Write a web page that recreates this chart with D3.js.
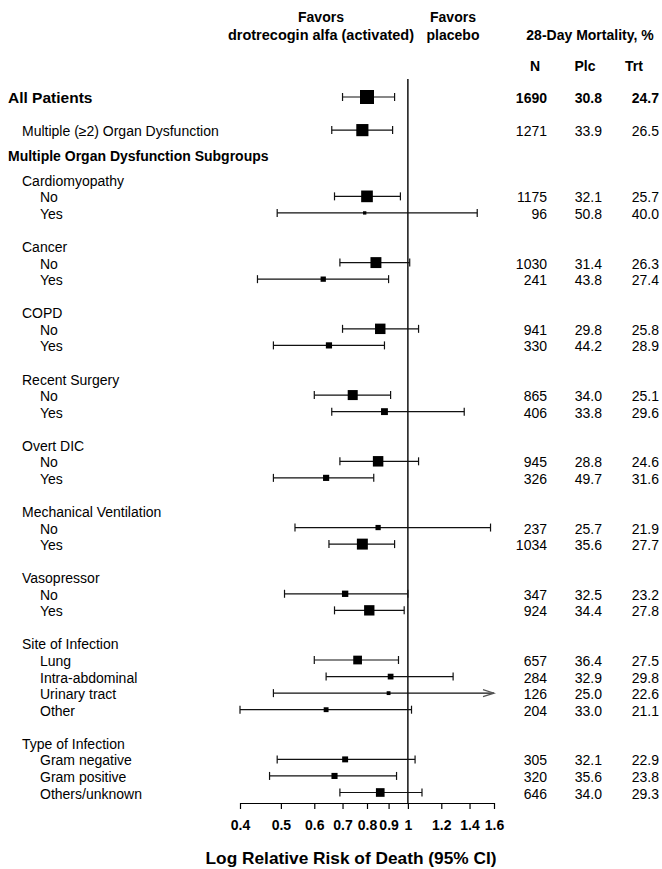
<!DOCTYPE html>
<html>
<head>
<meta charset="utf-8">
<script src="https://cdn.jsdelivr.net/npm/d3@7"></script>
<style>
  html, body { margin: 0; padding: 0; background: #fff; }
  text { font-family: "Liberation Sans", Arial, sans-serif; fill: #000; }
</style>
</head>
<body>
<script>
// ---------------- data ----------------
const labels = [
  "All Patients", "", "Multiple (\u22652) Organ Dysfunction", "", "Multiple Organ Dysfunction Subgroups",
  "Cardiomyopathy", "No", "Yes", "",
  "Cancer", "No", "Yes", "",
  "COPD", "No", "Yes", "",
  "Recent Surgery", "No", "Yes", "",
  "Overt DIC", "No", "Yes", "",
  "Mechanical Ventilation", "No", "Yes", "",
  "Vasopressor", "No", "Yes", "",
  "Site of Infection", "Lung", "Intra-abdominal", "Urinary tract", "Other", "",
  "Type of Infection", "Gram negative", "Gram positive", "Others/unknown"
];
const levels = [
  0, 0, 1, 0, 0,
  1, 2, 2, 0,
  1, 2, 2, 0,
  1, 2, 2, 0,
  1, 2, 2, 0,
  1, 2, 2, 0,
  1, 2, 2, 0,
  1, 2, 2, 0,
  1, 2, 2, 2, 2, 0,
  1, 2, 2, 2
];
const nPatients = [
  1690, null, 1271, null, null,
  null, 1175, 96, null,
  null, 1030, 241, null,
  null, 941, 330, null,
  null, 865, 406, null,
  null, 945, 326, null,
  null, 237, 1034, null,
  null, 347, 924, null,
  null, 657, 284, 126, 204, null,
  null, 305, 320, 646
];
const placebo = [
  "30.8", null, "33.9", null, null,
  null, "32.1", "50.8", null,
  null, "31.4", "43.8", null,
  null, "29.8", "44.2", null,
  null, "34.0", "33.8", null,
  null, "28.8", "49.7", null,
  null, "25.7", "35.6", null,
  null, "32.5", "34.4", null,
  null, "36.4", "32.9", "25.0", "33.0", null,
  null, "32.1", "35.6", "34.0"
];
const treated = [
  "24.7", null, "26.5", null, null,
  null, "25.7", "40.0", null,
  null, "26.3", "27.4", null,
  null, "25.8", "28.9", null,
  null, "25.1", "29.6", null,
  null, "24.6", "31.6", null,
  null, "21.9", "27.7", null,
  null, "23.2", "27.8", null,
  null, "27.5", "29.8", "22.6", "21.1", null,
  null, "22.9", "23.8", "29.3"
];
const relRisk = [
  0.80, null, 0.78, null, null,
  null, 0.80, 0.79, null,
  null, 0.84, 0.63, null,
  null, 0.86, 0.65, null,
  null, 0.74, 0.88, null,
  null, 0.85, 0.64, null,
  null, 0.85, 0.78, null,
  null, 0.71, 0.81, null,
  null, 0.76, 0.91, 0.90, 0.64, null,
  null, 0.71, 0.67, 0.86
];
const ciLow = [
  0.70, null, 0.66, null, null,
  null, 0.67, 0.49, null,
  null, 0.69, 0.44, null,
  null, 0.70, 0.48, null,
  null, 0.60, 0.66, null,
  null, 0.69, 0.48, null,
  null, 0.54, 0.65, null,
  null, 0.51, 0.67, null,
  null, 0.60, 0.64, 0.48, 0.40, null,
  null, 0.49, 0.47, 0.69
];
const ciHigh = [
  0.93, null, 0.92, null, null,
  null, 0.96, 1.46, null,
  null, 1.01, 0.90, null,
  null, 1.06, 0.88, null,
  null, 0.91, 1.36, null,
  null, 1.06, 0.83, null,
  null, 1.57, 0.93, null,
  null, 1.00, 0.98, null,
  null, 0.95, 1.28, 1.90, 1.02, null,
  null, 1.04, 0.94, 1.08
];
const tickValues = [0.4, 0.5, 0.6, 0.7, 0.8, 0.9, 1, 1.2, 1.4, 1.6];
const tickLabels = ["0.4", "0.5", "0.6", "0.7", "0.8", "0.9", "1", "1.2", "1.4", "1.6"];

// ---------------- chart ----------------
const W = 662, H = 869;
const svg = d3.select("body").append("svg").attr("width", W).attr("height", H);

const x = d3.scaleLog().domain([0.4, 1.6]).range([240, 494]);
const y = d3.scaleLinear().domain([0, labels.length - 1]).range([97, 792.5]);
const size = d3.scaleSqrt().domain([0, 1690]).range([0, 14]);
const axisY = 803;

const rows = labels.map((lab, i) => ({
  i, label: lab, level: levels[i], n: nPatients[i], plc: placebo[i], trt: treated[i],
  rr: relRisk[i], lo: ciLow[i], hi: ciHigh[i]
}));

// headers
const hdr = svg.append("g").attr("font-size", 14).attr("font-weight", "bold");
hdr.append("text").attr("x", 321).attr("y", 22).attr("text-anchor", "middle").text("Favors");
hdr.append("text").attr("x", 321).attr("y", 40).attr("text-anchor", "middle").attr("font-size", 14.5).text("drotrecogin alfa (activated)");
hdr.append("text").attr("x", 453).attr("y", 22).attr("text-anchor", "middle").text("Favors");
hdr.append("text").attr("x", 453).attr("y", 40).attr("text-anchor", "middle").text("placebo");
hdr.append("text").attr("x", 590).attr("y", 40).attr("text-anchor", "middle").text("28-Day Mortality, %");
hdr.append("text").attr("x", 535).attr("y", 71).attr("text-anchor", "middle").text("N");
hdr.append("text").attr("x", 585).attr("y", 71).attr("text-anchor", "middle").text("Plc");
hdr.append("text").attr("x", 634).attr("y", 71).attr("text-anchor", "middle").text("Trt");

// reference line at 1
svg.append("line")
  .attr("x1", x(1)).attr("x2", x(1))
  .attr("y1", 79).attr("y2", axisY)
  .attr("stroke", "#000").attr("stroke-width", 1.4);

// labels
const indentX = [8, 22, 40];
svg.append("g").selectAll("text")
  .data(rows.filter(d => d.label))
  .join("text")
  .attr("x", d => indentX[d.level])
  .attr("y", d => y(d.i) + 6 + (d.i === 4 ? -8 : 0))
  .attr("font-size", d => d.i === 0 ? 15.5 : 14)
  .attr("font-weight", d => d.level === 0 ? "bold" : "normal")
  .text(d => d.label);

// numbers
const numRows = rows.filter(d => d.n != null);
const cols = [
  { key: "n", xr: 547 },
  { key: "plc", xr: 602 },
  { key: "trt", xr: 659 }
];
cols.forEach(c => {
  svg.append("g").selectAll("text")
    .data(numRows)
    .join("text")
    .attr("x", c.xr)
    .attr("y", d => y(d.i) + 6)
    .attr("text-anchor", "end")
    .attr("font-size", 14)
    .attr("font-weight", d => d.i === 0 ? "bold" : "normal")
    .text(d => d[c.key]);
});

// CIs
const [dMin, dMax] = x.domain();
const ci = svg.append("g").attr("stroke", "#111").attr("stroke-width", 1.2).attr("fill", "none");
const est = rows.filter(d => d.rr != null);
est.forEach(d => {
  const yy = y(d.i);
  const lo = Math.max(d.lo, dMin), hi = Math.min(d.hi, dMax);
  ci.append("line").attr("x1", x(lo)).attr("x2", x(hi)).attr("y1", yy).attr("y2", yy);
  if (d.lo >= dMin) ci.append("line").attr("x1", x(lo)).attr("x2", x(lo)).attr("y1", yy - 4).attr("y2", yy + 4);
  if (d.hi <= dMax) {
    ci.append("line").attr("x1", x(hi)).attr("x2", x(hi)).attr("y1", yy - 4).attr("y2", yy + 4);
  } else {
    ci.append("path").attr("stroke", "#555")
      .attr("d", `M${x(hi) - 11},${yy - 3.5}L${x(hi)},${yy}L${x(hi) - 11},${yy + 3.5}`);
  }
});
svg.append("g").selectAll("rect")
  .data(est)
  .join("rect")
  .attr("x", d => x(d.rr) - size(d.n) / 2)
  .attr("y", d => y(d.i) - size(d.n) / 2)
  .attr("width", d => size(d.n))
  .attr("height", d => size(d.n))
  .attr("fill", "#000");

// axis
const axis = d3.axisBottom(x)
  .tickValues(tickValues)
  .tickFormat((d, i) => tickLabels[i])
  .tickSize(6)
  .tickSizeOuter(0)
  .tickPadding(11);
const ax = svg.append("g").attr("transform", `translate(0,${axisY})`).call(axis);
ax.select(".domain").attr("stroke", "#000").attr("stroke-width", 1.2);
ax.selectAll(".tick line").attr("stroke", "#000").attr("stroke-width", 1.2);
ax.selectAll(".tick text")
  .attr("font-size", 14).attr("font-weight", "bold")
  .attr("font-family", "'Liberation Sans', Arial, sans-serif").attr("fill", "#000");

svg.append("text")
  .attr("x", 351).attr("y", 864)
  .attr("text-anchor", "middle")
  .attr("font-size", 17.3).attr("font-weight", "bold")
  .text("Log Relative Risk of Death (95% CI)");
</script>
</body>
</html>
